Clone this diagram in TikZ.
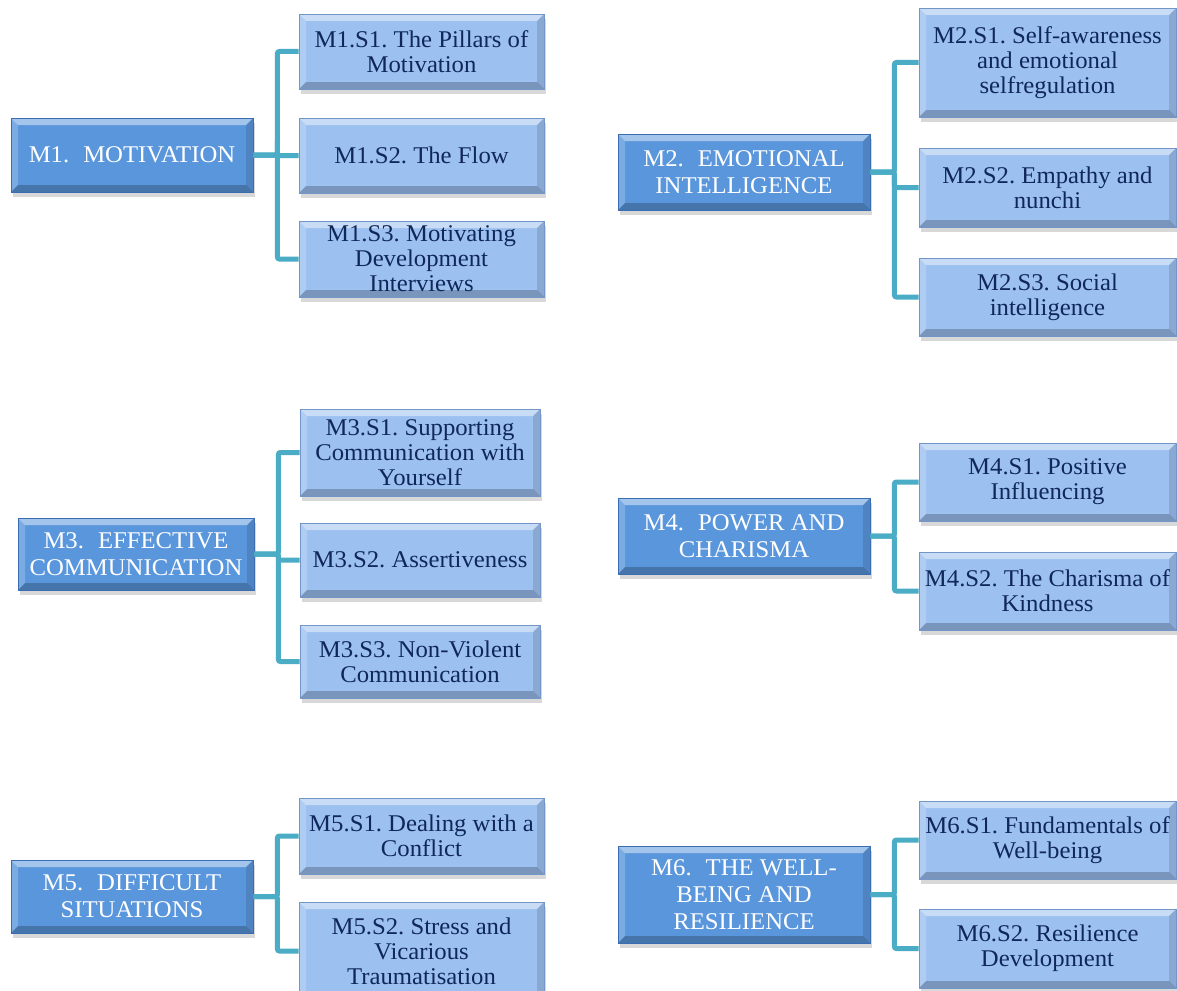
\documentclass[tikz,border=0pt]{standalone}
\usepackage{fontspec}
\setmainfont{Liberation Serif}[FakeStretch=1.03]
\usetikzlibrary{shadows}

\definecolor{topicblue}{HTML}{5A96DC}
\definecolor{topicedge}{HTML}{3B6DB3}
\definecolor{subblue}{HTML}{9CC0F0}
\definecolor{subedge}{HTML}{7395C8}
\definecolor{subtext}{HTML}{10275A}
\definecolor{linkteal}{HTML}{4BACC6}

\begin{document}
\frenchspacing
\begin{tikzpicture}[x=1pt,y=-1pt,
    bevel/.style={path picture={
      \path (path picture bounding box.north west) coordinate (pa)
            (path picture bounding box.north east) coordinate (pb)
            (path picture bounding box.south east) coordinate (pc)
            (path picture bounding box.south west) coordinate (pd);
      \fill[white,opacity=.45] (pa) -- (pb) -- ([xshift=-7pt,yshift=-7pt]pb) -- ([xshift=7pt,yshift=-7pt]pa) -- cycle;
      \fill[white,opacity=.2] (pa) -- ([xshift=7pt,yshift=-7pt]pa) -- ([xshift=7pt,yshift=7pt]pd) -- (pd) -- cycle;
      \fill[black,opacity=.22] (pd) -- (pc) -- ([xshift=-7pt,yshift=7pt]pc) -- ([xshift=7pt,yshift=7pt]pd) -- cycle;
      \fill[black,opacity=.12] (pb) -- (pc) -- ([xshift=-7pt,yshift=7pt]pc) -- ([xshift=-7pt,yshift=-7pt]pb) -- cycle;}},
    box/.style={align=center,inner sep=0pt,line width=.8pt,bevel,
      drop shadow={shadow xshift=2pt,shadow yshift=-5pt,opacity=.3}},
    topic/.style={box,draw=topicedge,fill=topicblue,text=white,
      font=\fontsize{24}{27}\selectfont},
    subtopic/.style={box,draw=subedge,fill=subblue,text=subtext,
      font=\fontsize{24}{25}\selectfont},
    link/.style={draw=linkteal,line width=5pt,rounded corners=2pt}]

  \useasboundingbox[fill=white] (0,0) rectangle (1177,990);
  \clip (0,0) rectangle (1177,990);

  % modules
  \node[topic,minimum width=242,minimum height=74] (m1) at (132,155) {M1.\hspace{14pt}MOTIVATION};
  \node[topic,minimum width=252,minimum height=76] (m2) at (744,172) {M2.\hspace{14pt}EMOTIONAL\\INTELLIGENCE};
  \node[topic,minimum width=236,minimum height=72] (m3) at (136,554) {M3.\hspace{14pt}EFFECTIVE\\COMMUNICATION};
  \node[topic,minimum width=252,minimum height=76] (m4) at (744,536) {M4.\hspace{14pt}POWER AND\\CHARISMA};
  \node[topic,minimum width=242,minimum height=73] (m5) at (132,896.5) {M5.\hspace{14pt}DIFFICULT\\SITUATIONS};
  \node[topic,minimum width=252,minimum height=97] (m6) at (744,894.5) {M6.\hspace{14pt}THE WELL-\\BEING AND\\RESILIENCE};

  % sessions, left column
  \foreach \n/\x/\y/\w/\h/\t in {
      m1s1/421.5/51.5/245/75/{M1.S1. The Pillars of\\Motivation},
      m1s2/421.5/155.5/245/75/{M1.S2. The Flow},
      m1s3/421.5/259/245/76/{M1.S3. Motivating\\Development\\Interviews},
      m3s1/420/452.5/240/87/{M3.S1. Supporting\\Communication with\\Yourself},
      m3s2/420/560/240/74/{M3.S2. Assertiveness},
      m3s3/420/661.5/240/73/{M3.S3. Non-Violent\\Communication},
      m5s1/421.5/836/245/76/{M5.S1. Dealing with a\\Conflict},
      m5s2/421.5/951/245/98/{M5.S2. Stress and\\Vicarious\\Traumatisation}}
    \node[subtopic,minimum width=\w,minimum height=\h] (\n) at (\x,\y) {\t};

  % sessions, right column
  \foreach \n/\y/\h/\t in {
      m2s1/62.5/109/{M2.S1. Self-awareness\\and emotional\\selfregulation},
      m2s2/187.5/79/{M2.S2. Empathy and\\nunchi},
      m2s3/297/78/{M2.S3. Social\\intelligence},
      m4s1/482/78/{M4.S1. Positive\\Influencing},
      m4s2/591/78/{M4.S2. The Charisma of\\Kindness},
      m6s1/840/78/{M6.S1. Fundamentals of\\Well-being},
      m6s2/948.5/79/{M6.S2. Resilience\\Development}}
    \node[subtopic,minimum width=257,minimum height=\h] (\n) at (1047.5,\y) {\t};

  % connectors
  \foreach \m/\s in {m1/m1s1,m1/m1s2,m1/m1s3,m2/m2s1,m2/m2s2,m2/m2s3,
                     m3/m3s1,m3/m3s2,m3/m3s3,m4/m4s1,m4/m4s2,
                     m5/m5s1,m5/m5s2,m6/m6s1,m6/m6s2}
    \draw[link] (\m.east) -- ++(24,0) |- (\s.west);
\end{tikzpicture}
\end{document}
